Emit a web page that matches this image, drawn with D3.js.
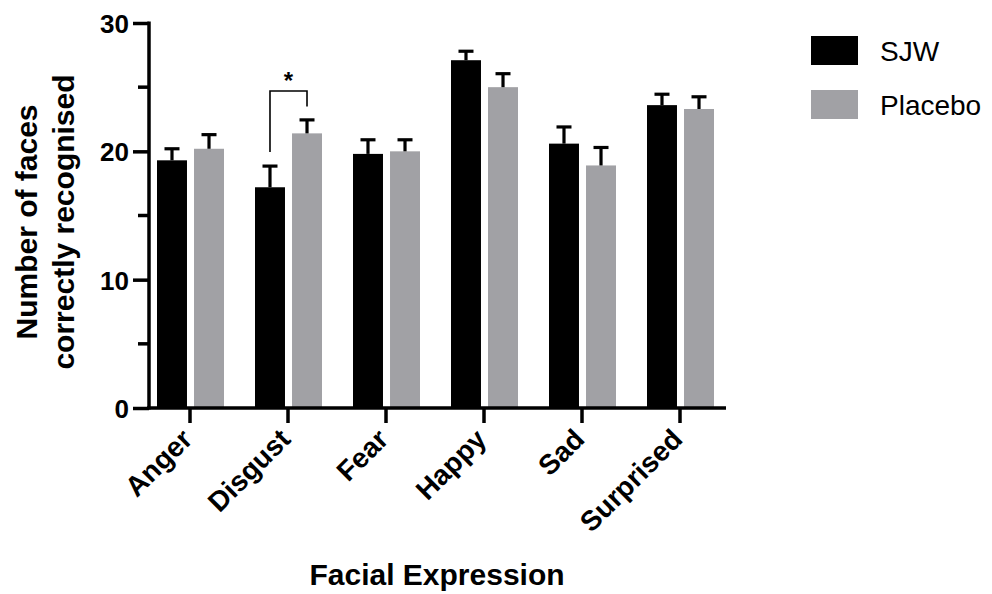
<!DOCTYPE html>
<html>
<head>
<meta charset="utf-8">
<script src="https://cdn.jsdelivr.net/npm/d3@7"></script>
<style>
    body { margin: 0; background: #fff; }
    svg { display: block; font-family: "Liberation Sans", Arial, Helvetica, sans-serif; }
</style>
</head>
<body>
<svg id="chart" width="992" height="594"></svg>
<script>
// values (mean and upper SEM)
const categories = ["Anger", "Disgust", "Fear", "Happy", "Sad", "Surprised"];
const groups = ["SJW", "Placebo"];
const sjw_means = [19.3, 17.2, 19.8, 27.1, 20.6, 23.6];
const sjw_sem = [0.9, 1.65, 1.1, 0.7, 1.3, 0.85];
const placebo_means = [20.2, 21.4, 20.0, 25.0, 18.9, 23.3];
const placebo_sem = [1.1, 1.05, 0.9, 1.05, 1.4, 0.95];
const y_ticks = [0, 10, 20, 30];
const y_minor = [5, 15, 25];
const group_colors = ["#000000", "#a1a1a5"];
const significance = [{ category: "Disgust", label: "*" }];

const svg = d3.select("#chart");

const X = d3.scaleBand().domain(categories).range([141, 729]);
const X_inner = d3.scaleBand().domain(groups).range([16, 83]).paddingInner(0.19);
const Y = d3.scaleLinear().domain([0, 30]).range([408, 23]);

// build rows for each bar
const rows = [];
categories.forEach(function (cat, i) {
    rows.push({ cat: cat, group: "SJW", mean: sjw_means[i], sem: sjw_sem[i] });
    rows.push({ cat: cat, group: "Placebo", mean: placebo_means[i], sem: placebo_sem[i] });
});
const color = d3.scaleOrdinal().domain(groups).range(group_colors);

// bars
svg.append("g").selectAll("rect.bar")
    .data(rows)
    .enter()
    .append("rect")
    .attr("class", "bar")
    .attr("x", d => X(d.cat) + X_inner(d.group))
    .attr("width", X_inner.bandwidth())
    .attr("y", d => Y(d.mean))
    .attr("height", d => Y(0) - Y(d.mean))
    .attr("fill", d => color(d.group));

// upper error bars
const err = svg.append("g")
    .attr("stroke", "#000")
    .attr("stroke-width", 3.2);
err.selectAll("line.stem")
    .data(rows)
    .enter()
    .append("line")
    .attr("class", "stem")
    .attr("x1", d => X(d.cat) + X_inner(d.group) + X_inner.bandwidth() / 2)
    .attr("x2", d => X(d.cat) + X_inner(d.group) + X_inner.bandwidth() / 2)
    .attr("y1", d => Y(d.mean))
    .attr("y2", d => Y(d.mean + d.sem));
err.selectAll("line.cap")
    .data(rows)
    .enter()
    .append("line")
    .attr("class", "cap")
    .attr("x1", d => X(d.cat) + X_inner(d.group) + X_inner.bandwidth() / 2 - 7.5)
    .attr("x2", d => X(d.cat) + X_inner(d.group) + X_inner.bandwidth() / 2 + 7.5)
    .attr("y1", d => Y(d.mean + d.sem))
    .attr("y2", d => Y(d.mean + d.sem));

// y axis
const yAxis = svg.append("g")
    .attr("transform", "translate(149,0)")
    .call(d3.axisLeft(Y).tickValues(y_ticks).tickSize(16).tickPadding(4).tickFormat(d3.format("d")));
yAxis.select(".domain").remove();
yAxis.selectAll(".tick line").attr("stroke", "#000").attr("stroke-width", 3.5);
yAxis.selectAll(".tick text")
    .attr("fill", "#000")
    .style("font-size", "26px")
    .style("font-weight", "bold")
    .attr("dy", "0.36em");
yAxis.selectAll("line.minor")
    .data(y_minor)
    .enter()
    .append("line")
    .attr("class", "minor")
    .attr("x1", -11)
    .attr("x2", 0)
    .attr("y1", d => Y(d))
    .attr("y2", d => Y(d))
    .attr("stroke", "#000")
    .attr("stroke-width", 3.5);
svg.append("line")
    .attr("x1", 149).attr("x2", 149)
    .attr("y1", Y(30) - 1.5).attr("y2", Y(0) + 1.5)
    .attr("stroke", "#000").attr("stroke-width", 3.5);

// x axis
const xAxis = svg.append("g")
    .attr("transform", `translate(0,${Y(0)})`)
    .call(d3.axisBottom(X).tickSize(15).tickFormat(""));
xAxis.select(".domain").remove();
xAxis.selectAll(".tick line").attr("stroke", "#000").attr("stroke-width", 3.5);
svg.append("line")
    .attr("x1", 147).attr("x2", 726)
    .attr("y1", Y(0)).attr("y2", Y(0))
    .attr("stroke", "#000").attr("stroke-width", 3.5);

// rotated category labels
svg.append("g").selectAll("text.cat")
    .data(categories)
    .enter()
    .append("text")
    .attr("class", "cat")
    .attr("transform", d => `translate(${X(d) + X.bandwidth() / 2 + 4},441) rotate(-45)`)
    .attr("text-anchor", "end")
    .style("font-size", "28px")
    .style("font-weight", "bold")
    .text(d => d);

// significance bracket
significance.forEach(function (s) {
    const i = categories.indexOf(s.category);
    const xl = X(s.category) + X_inner("SJW") + X_inner.bandwidth() / 2;
    const xr = X(s.category) + X_inner("Placebo") + X_inner.bandwidth() / 2;
    const top = Y(24.7);
    svg.append("path")
        .attr("d", `M${xl},${Y(sjw_means[i] + sjw_sem[i] + 1.1)}V${top}H${xr}V${Y(placebo_means[i] + placebo_sem[i] + 1.05)}`)
        .attr("fill", "none")
        .attr("stroke", "#000")
        .attr("stroke-width", 1.6);
    svg.append("text")
        .attr("x", (xl + xr) / 2)
        .attr("y", top - 2)
        .attr("text-anchor", "middle")
        .style("font-size", "24px")
        .style("font-weight", "bold")
        .text(s.label);
});

// axis titles
svg.append("text")
    .attr("x", 437)
    .attr("y", 585)
    .attr("text-anchor", "middle")
    .style("font-size", "30px")
    .style("font-weight", "bold")
    .text("Facial Expression");
const yTitle = svg.append("text")
    .attr("transform", "translate(37,222) rotate(-90)")
    .attr("text-anchor", "middle")
    .style("font-size", "30px")
    .style("font-weight", "bold");
yTitle.append("tspan").attr("x", 0).attr("y", 0).text("Number of faces");
yTitle.append("tspan").attr("x", 0).attr("y", 37).text("correctly recognised");

// legend
const legend = svg.append("g").selectAll("g.legend")
    .data(groups)
    .enter()
    .append("g")
    .attr("class", "legend")
    .attr("transform", (d, i) => `translate(811,${36 + i * 54})`);
legend.append("rect")
    .attr("width", 47)
    .attr("height", 29)
    .attr("fill", d => color(d));
legend.append("text")
    .attr("x", 69)
    .attr("y", 25)
    .style("font-size", "28px")
    .text(d => d);
</script>
</body>
</html>
